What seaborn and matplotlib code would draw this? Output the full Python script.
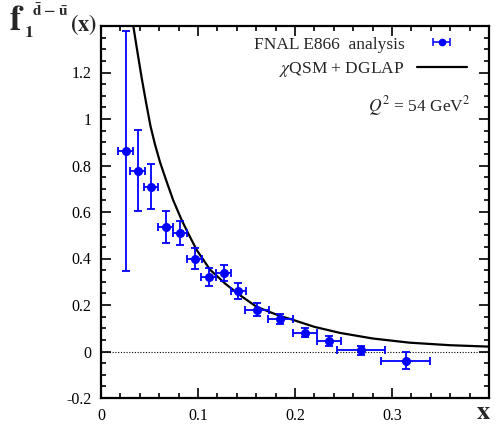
import numpy as np
import pandas as pd
import matplotlib
matplotlib.use("Agg")
import matplotlib.pyplot as plt
from matplotlib.ticker import MultipleLocator
import seaborn as sns

# Data points (FNAL E866 analysis)
x_data = [0.0254, 0.0378, 0.0515, 0.0667, 0.0814, 0.0966, 0.111, 0.1265, 0.1415,
          0.1605, 0.185, 0.210, 0.2354, 0.268, 0.314]
y_data = [0.863, 0.777, 0.709, 0.536, 0.511, 0.400, 0.320, 0.338, 0.259,
          0.179, 0.140, 0.0815, 0.044, 0.006, -0.040]
y_err = [0.517, 0.174, 0.096, 0.068, 0.052, 0.044, 0.040, 0.036, 0.035,
         0.028, 0.023, 0.021, 0.021, 0.019, 0.036]
x_err = [0.0075, 0.0075, 0.0075, 0.0075, 0.0075, 0.0075, 0.0075, 0.0075, 0.0075,
         0.0125, 0.0125, 0.0125, 0.0125, 0.025, 0.025]

# Theory curve (chiQSM + DGLAP)
x_curve = [0.0333, 0.0375, 0.0418, 0.0465, 0.051, 0.0557, 0.0608, 0.0677, 0.0745,
           0.0832, 0.090, 0.0986, 0.1124, 0.128, 0.1433, 0.1605, 0.185, 0.195,
           0.22, 0.2464, 0.28, 0.318, 0.36, 0.40]
y_curve = [1.40, 1.29, 1.18, 1.07, 0.97, 0.89, 0.815, 0.730, 0.650,
           0.565, 0.507, 0.437, 0.352, 0.292, 0.242, 0.192, 0.152, 0.140,
           0.106, 0.080, 0.056, 0.038, 0.027, 0.021]

x_ticks = [0, 0.1, 0.2, 0.3]
y_ticks = [-0.2, 0, 0.2, 0.4, 0.6, 0.8, 1, 1.2]
x_ticklabels = ["0", "0.1", "0.2", "0.3"]
y_ticklabels = ["-0.2", "0", "0.2", "0.4", "0.6", "0.8", "1", "1.2"]

sns.set_theme(style="ticks")
plt.rcParams["font.family"] = ["Liberation Serif", "DejaVu Serif"]
plt.rcParams["mathtext.fontset"] = "stix"

W, H = 501, 428
fig = plt.figure(figsize=(W / 100, H / 100), dpi=100)
ax = fig.add_axes([101 / W, 30 / H, 388 / W, 372 / H])

blue = "#0000ff"
curve_df = pd.DataFrame({"x": x_curve, "y": y_curve})
sns.lineplot(data=curve_df, x="x", y="y", ax=ax, color="black", lw=1.6,
             label=r"$\chi$QSM + DGLAP", sort=False)

ax.errorbar(x_data, y_data, xerr=x_err, yerr=y_err, fmt="o", color=blue,
            ms=5.5, elinewidth=1.3, capsize=3, capthick=1.3, zorder=3)
# legend proxy (horizontal bar only)
ax.errorbar([np.nan], [np.nan], xerr=[0.01], fmt="o", color=blue,
            ms=4.5, elinewidth=1.1, capsize=3, capthick=1.1,
            label="FNAL E866  analysis")

ax.axhline(0, color="black", lw=0.8, ls=(0, (1, 1.5)), zorder=1)

ax.set_xlim(0, 0.4)
ax.set_ylim(-0.2, 1.4)
ax.set_xticks(x_ticks)
ax.set_xticklabels(x_ticklabels)
ax.set_yticks(y_ticks)
ax.set_yticklabels(y_ticklabels)
ax.xaxis.set_minor_locator(MultipleLocator(0.02))
ax.yaxis.set_minor_locator(MultipleLocator(0.05))
ax.tick_params(which="both", direction="in", top=True, right=True,
               labelsize=11.5, colors="black", width=1.2)
ax.tick_params(which="major", length=7, pad=7)
ax.tick_params(which="minor", length=3.5)
for s in ax.spines.values():
    s.set_linewidth(1.6)
    s.set_color("black")
ax.set_xlabel("")
ax.set_ylabel("")

handles, labels = ax.get_legend_handles_labels()
order = [labels.index("FNAL E866  analysis"), labels.index(r"$\chi$QSM + DGLAP")]
leg = ax.legend([handles[i] for i in order], [labels[i] for i in order],
                loc="upper right", frameon=False, markerfirst=False,
                fontsize=12.5, handlelength=2.9, handletextpad=0.7,
                borderaxespad=0.2, labelspacing=0.45,
                bbox_to_anchor=(0.97, 1.0))

ax.text(0.952, 0.785, r"$Q^2$ = 54 GeV$^2$", transform=ax.transAxes,
        ha="right", va="center", fontsize=12.5)

def fy(py):
    return 1 - py / H

fig.text(9 / W, fy(30), r"$\mathbf{f}$", fontsize=25, ha="left", va="baseline")
fig.text(24 / W, fy(37), r"$\mathbf{1}$", fontsize=12.5, ha="left", va="baseline")
fig.text(32 / W, fy(16), r"$\mathbf{\bar{d}}\;\mathbf{-}\;\mathbf{\bar{u}}$",
         fontsize=11, ha="left", va="baseline")
fig.text(70 / W, fy(31), r"$\mathbf{(x)}$", fontsize=16, ha="left", va="baseline")
fig.text(483 / W, fy(419), r"$\mathbf{x}$", fontsize=19,
         ha="center", va="baseline")

fig.savefig("out.png", dpi=100)
